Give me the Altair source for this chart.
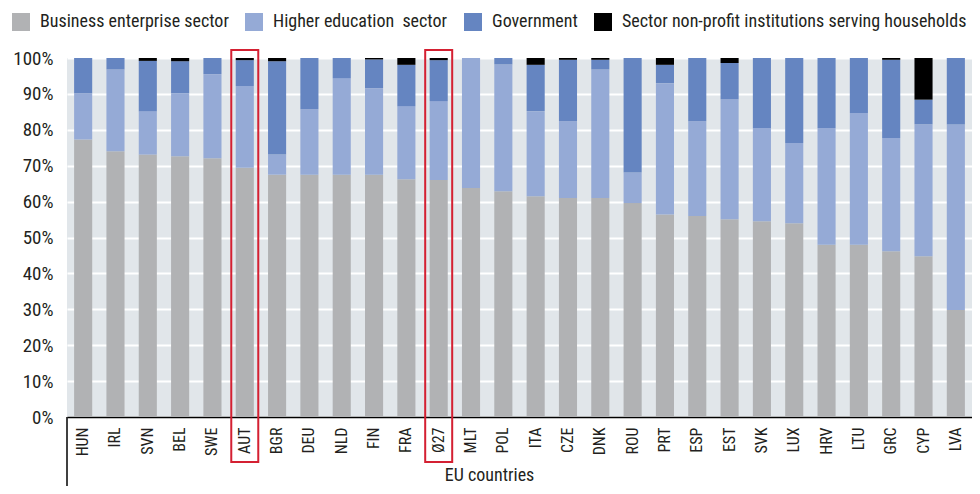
import altair as alt
import pandas as pd

countries = ["HUN", "IRL", "SVN", "BEL", "SWE", "AUT", "BGR", "DEU", "NLD", "FIN",
             "FRA", "Ø27", "MLT", "POL", "ITA", "CZE", "DNK", "ROU", "PRT", "ESP",
             "EST", "SVK", "LUX", "HRV", "LTU", "GRC", "CYP", "LVA"]
business = [77.3, 74.0, 73.1, 72.6, 72.1, 69.4, 67.5, 67.5, 67.5, 67.5,
            66.2, 66.0, 63.8, 62.9, 61.5, 61.0, 61.0, 59.6, 56.4, 56.0,
            55.1, 54.5, 54.0, 48.0, 48.0, 46.2, 44.8, 29.8]
higher = [12.9, 22.8, 12.1, 17.6, 23.4, 22.8, 5.6, 18.2, 26.9, 24.1,
          20.4, 22.0, 36.2, 35.3, 23.7, 21.4, 35.8, 8.5, 36.6, 26.4,
          33.4, 26.0, 22.3, 32.5, 36.7, 31.5, 36.7, 51.7]
government = [9.8, 3.2, 14.0, 8.9, 4.5, 7.2, 26.0, 14.3, 5.6, 8.0,
              11.5, 11.4, 0.0, 1.8, 12.9, 17.1, 2.7, 31.9, 5.1, 17.6,
              10.1, 19.5, 23.7, 19.5, 15.3, 21.8, 6.9, 18.5]
nonprofit = [0.0, 0.0, 0.8, 0.9, 0.0, 0.6, 0.9, 0.0, 0.0, 0.4,
             1.9, 0.6, 0.0, 0.0, 1.9, 0.5, 0.5, 0.0, 1.9, 0.0,
             1.4, 0.0, 0.0, 0.0, 0.0, 0.5, 11.6, 0.0]
sectors = ["Business enterprise sector", "Higher education\u00a0 sector",
           "Government", "Sector non-profit institutions serving households"]
colors = ["#b1b2b4", "#95aad6", "#6585c1", "#000000"]
highlighted = ["AUT", "Ø27"]
y_ticks = [0, 10, 20, 30, 40, 50, 60, 70, 80, 90, 100]

rows = []
series = [business, higher, government, nonprofit]
for i, c in enumerate(countries):
    for j, s in enumerate(sectors):
        rows.append({"country": c, "sector": s, "order": j, "value": series[j][i]})
df = pd.DataFrame(rows)

W, H = 905, 359
FONT = "Roboto Condensed, Liberation Sans Narrow, DejaVu Sans Condensed, sans-serif"
TXT = "#231f20"

xscale = alt.Scale(paddingInner=0.44, paddingOuter=0.22)
xaxis = alt.Axis(labelAngle=-90, labelAlign="right", labelBaseline="middle",
                 labelPadding=10, labelFontSize=16, ticks=False,
                 domainColor="black", domainWidth=1.5,
                 titleFontSize=18, titleFontWeight="normal",
                 titleX=422, titleY=63, titleAlign="center",
                 titleBaseline="alphabetic")

bars = alt.Chart(df).mark_bar().encode(
    x=alt.X("country:N", sort=countries, scale=xscale, title="EU countries", axis=xaxis),
    y=alt.Y("value:Q", stack="zero", title=None,
            scale=alt.Scale(domain=[0, 100], nice=False),
            axis=alt.Axis(values=y_ticks, labelExpr="datum.value + '%'",
                          domain=False, ticks=False, gridColor="white", gridWidth=2,
                          labelFontSize=19, labelPadding=14)),
    color=alt.Color("sector:N", scale=alt.Scale(domain=sectors, range=colors),
                    legend=alt.Legend(orient="none", legendX=-55, legendY=-45,
                                      direction="horizontal", columns=4, title=None,
                                      symbolType="square", symbolSize=324,
                                      symbolStrokeWidth=0, labelFontSize=18,
                                      labelFont=FONT, labelColor=TXT, labelOffset=10,
                                      columnPadding=16, labelLimit=600)),
    order=alt.Order("order:Q"),
)

boxes = alt.Chart(pd.DataFrame({"country": highlighted})).mark_bar(
    filled=False, stroke="#d42032", strokeWidth=2, width=27
).encode(
    x=alt.X("country:N", sort=countries, scale=xscale, title="EU countries", axis=xaxis),
    y=alt.value(-8),
    y2=alt.value(H + 45),
)

rule = alt.Chart(pd.DataFrame({"k": [0]})).mark_rule(color="black", strokeWidth=1.5).encode(
    x=alt.value(0), y=alt.value(H), y2=alt.value(H + 69)
)

chart = alt.layer(bars, boxes, rule).properties(
    width=W, height=H,
    padding={"left": 59, "top": 50, "right": 0, "bottom": 69},
    autosize=alt.AutoSizeParams(type="none"),
).configure_view(fill="#e1e6ea", stroke=None).configure_axis(
    labelFont=FONT, titleFont=FONT, labelColor=TXT, titleColor=TXT
)

chart.save("out.html", embed_options={"renderer": "svg", "actions": False})
